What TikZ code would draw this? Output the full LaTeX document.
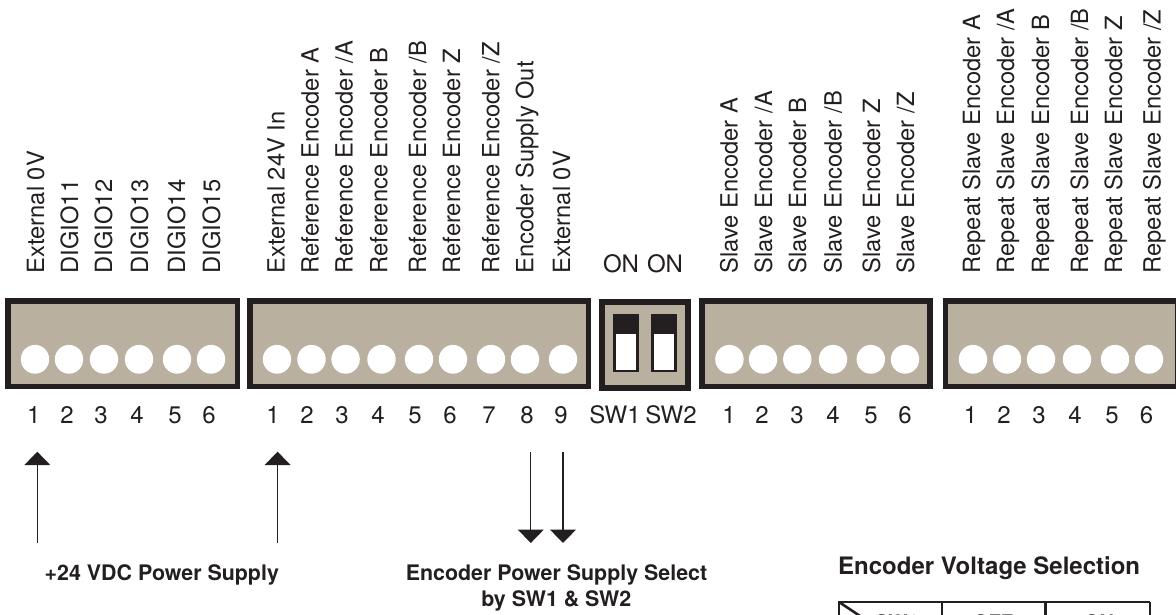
\documentclass[tikz,border=0pt]{standalone}
\usepackage{fontspec}
\setmainfont{TeX Gyre Heros}
\usetikzlibrary{arrows.meta}
\definecolor{ink}{HTML}{231F20}
\definecolor{tan}{HTML}{B9B0A0}
\tikzset{
  x=1pt,y=-1pt,
  blockbox/.style={draw=ink,fill=tan,line width=5.5pt},
  holedot/.style={fill=white,draw=none},
  pinlabel/.style={rotate=90,anchor=base west,inner sep=0pt,text=ink,font=\fontsize{23.7}{24}\selectfont},
  numlabel/.style={anchor=base,inner sep=0pt,text=ink,font=\fontsize{24}{24}\selectfont},
  headline/.style={anchor=base,inner sep=0pt,text=ink,font=\fontsize{21.4}{24}\selectfont\bfseries},
  feedarrow/.style={draw=ink,line width=1.2pt,-{Triangle[width=26pt,length=13.5pt]}},
  gridline/.style={draw=ink,line width=2.6pt}
}
\begin{document}
\begin{tikzpicture}
\useasboundingbox (0,0) rectangle (1176,615);
% terminal blocks
\draw[blockbox] (7.75,300.75) rectangle (237.25,386.25);
\draw[blockbox] (249.75,300.75) rectangle (588.25,386.25);
\draw[blockbox] (601.75,301.75) rectangle (687.75,388);
\draw[blockbox] (701.75,300.75) rectangle (929.75,386.25);
\draw[blockbox] (945.5,300.75) rectangle (1178,386.25);
% holes
\foreach \x in {35,69,104,139,177,211,277,311.5,345.6,381.5,419,453,491,525,563,729.4,763,797.3,833,870.8,905,973,1007,1041,1077,1115,1149}
  \fill[holedot] (\x,359.3) ellipse [x radius=14.2pt,y radius=14.4pt];
% switches
\fill[ink] (613,314) rectangle (638.6,372);
\fill[white] (615.8,333.5) rectangle (636,370);
\fill[ink] (650.8,314) rectangle (676.7,372);
\fill[white] (653.5,333.5) rectangle (674,370);
% rotated labels
\foreach \x/\t in {44/{External 0V},78/{DIGIO11},112/{DIGIO12},148/{DIGIO13},185/{DIGIO14},220/{DIGIO15},
  284.5/{External 24V In},318.5/{Reference Encoder A},352.7/{Reference Encoder /A},387.3/{Reference Encoder B},426/{Reference Encoder /B},460/{Reference Encoder Z},499.3/{Reference Encoder /Z},533.3/{Encoder Supply Out},570/{External 0V},
  737.7/{Slave Encoder A},772/{Slave Encoder /A},806/{Slave Encoder B},841.7/{Slave Encoder /B},880/{Slave Encoder Z},914/{Slave Encoder /Z},
  980/{Repeat Slave Encoder A},1014/{Repeat Slave Encoder /A},1049/{Repeat Slave Encoder B},1088/{Repeat Slave Encoder /B},1122/{Repeat Slave Encoder Z},1160.7/{Repeat Slave Encoder /Z}}
  \node[pinlabel] at (\x,273.5) {\t};
% ON ON
\node[numlabel] (on1) at (621,272) {ON};
\node[numlabel] (on2) at (665,272) {ON};
% numbers
\foreach \x/\t in {33.7/1,67/2,101/3,137/4,175/5,209/6,
  273/1,307/2,342/3,378/4,415/5,450/6,489/7,527/8,561/9,
  615/SW1,671/SW2,
  729/1,762/2,797/3,833/4,871/5,905/6,
  970.6/1,1004/2,1039/3,1075/4,1112/5,1146.6/6}
  \node[numlabel] at (\x,423) {\t};
% arrows
\coordinate (upa0) at (37.3,543); \coordinate (upa1) at (37.3,451.7);
\coordinate (upb0) at (277.6,543); \coordinate (upb1) at (277.6,451.7);
\coordinate (dna0) at (530.8,452); \coordinate (dna1) at (530.8,543);
\coordinate (dnb0) at (563,452); \coordinate (dnb1) at (563,543);
\draw[feedarrow] (upa0) -- (upa1);
\draw[feedarrow] (upb0) -- (upb1);
\draw[feedarrow] (dna0) -- (dna1);
\draw[feedarrow] (dnb0) -- (dnb1);
% headings
\node[headline] (supply) at (161.8,580) {+24 VDC Power Supply};
\node[headline] (select) at (556.5,580) {Encoder Power Supply Select};
\node[headline] (byline) at (556.3,606.7) {by SW1 \& SW2};
\node[headline,anchor=base west,font=\fontsize{24}{24}\selectfont\bfseries] (voltage) at (838,574) {Encoder Voltage Selection};
% table, cut by the bottom edge
\begin{scope}
\clip (0,0) rectangle (1176,615);
\draw[gridline] (838,602) -- (1150,602);
\draw[gridline] (839,602) -- (839,640);
\draw[gridline] (942,602) -- (942,640);
\draw[gridline] (1045.7,602) -- (1045.7,640);
\draw[gridline] (1150,602) -- (1150,640);
\draw[gridline] (839,602) -- (866,620);
\node[numlabel,font=\fontsize{20}{24}\selectfont\bfseries] at (897,629) {SW1};
\node[numlabel,font=\fontsize{20}{24}\selectfont\bfseries] at (993,629) {OFF};
\node[numlabel,font=\fontsize{20}{24}\selectfont\bfseries] at (1099,629) {ON};
\end{scope}
\end{tikzpicture}
\end{document}
